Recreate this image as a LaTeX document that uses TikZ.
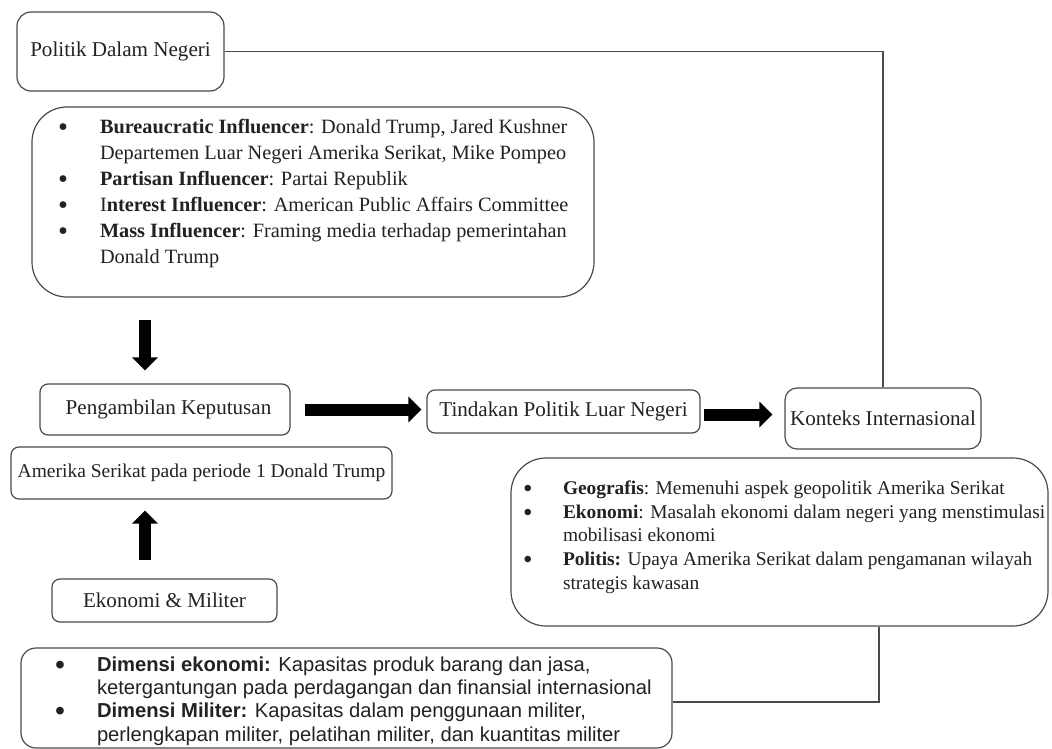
\documentclass[tikz,border=0pt]{standalone}
\usepackage{fontspec}
\setmainfont{Liberation Serif}
\newfontfamily\arialf{Liberation Sans}
\usetikzlibrary{arrows.meta,calc}
\definecolor{boxgray}{HTML}{4A4A4A}
\definecolor{txt}{HTML}{222222}
\newcommand\bigbul{\smash{\raisebox{-3pt}{\scalebox{1.4}{•}}}}
\begin{document}
\begin{tikzpicture}[x=1pt,y=-1pt,
  box/.style={draw=boxgray, line width=1.2pt, rounded corners=#1, inner sep=0pt,
    text=txt, font=\fontsize{21.1}{24}\selectfont},
  box/.default=8pt,
  bigarrow/.style={draw=black, line width=12pt, -{Triangle[length=13pt,width=25pt]}},
  link/.style={draw=boxgray, line width=1.2pt}]
\useasboundingbox (0,0) rectangle (1052,749);
\fill[white] (0,0) rectangle (1052,749);

% boxes
\node[box=14pt, minimum width=207pt, minimum height=79pt] (pdn) at (120.5,51.5) {Politik Dalam Negeri};

\node[box=35pt, minimum width=562pt, minimum height=190pt] (infl) at (313,202) {%
  \begin{minipage}[c][190pt][t]{562pt}\fontsize{20.3}{26}\selectfont
  \vspace*{8pt}\noindent\hspace*{26pt}\begin{tabular}[t]{@{}p{42pt}@{}l@{}}
  \bigbul & \textbf{Bureaucratic Influencer}: Donald Trump, Jared Kushner\\
    & Departemen Luar Negeri Amerika Serikat, Mike Pompeo\\
  \bigbul & \textbf{Partisan Influencer}: Partai Republik\\
  \bigbul & I\textbf{nterest Influencer}: American Public Affairs Committee\\
  \bigbul & \textbf{Mass Influencer}: Framing media terhadap pemerintahan\\
    & Donald Trump
  \end{tabular}\end{minipage}};

\node[box, minimum width=250pt, minimum height=51pt] (pk) at (165,409.5) {\hspace*{7pt}Pengambilan Keputusan};
\node[box, minimum width=273pt, minimum height=43pt] (tpln) at (563.5,411.5) {\raisebox{3pt}{Tindakan Politik Luar Negeri}};
\node[box=12pt, minimum width=196pt, minimum height=61pt] (ki) at (883,418.5) {\raisebox{-3pt}{Konteks Internasional}};
\node[box, minimum width=381pt, minimum height=52pt, font=\fontsize{19.5}{24}\selectfont] (as) at (201.5,473) {Amerika Serikat pada periode 1 Donald Trump};
\node[box, minimum width=225pt, minimum height=43pt] (em) at (164.5,600.5) {Ekonomi \& Militer};

\node[box=35pt, minimum width=537pt, minimum height=168pt] (fac) at (779.5,542) {%
  \begin{minipage}[c][168pt][t]{537pt}\fontsize{19.4}{23.7}\selectfont
  \vspace*{20pt}\noindent\hspace*{12pt}\begin{tabular}[t]{@{}p{40pt}@{}l@{}}
  \bigbul & \textbf{Geografis}: Memenuhi aspek geopolitik Amerika Serikat\\
  \bigbul & \textbf{Ekonomi}: Masalah ekonomi dalam negeri yang menstimulasi\\
    & mobilisasi ekonomi\\
  \bigbul & \textbf{Politis:} Upaya Amerika Serikat dalam pengamanan wilayah\\
    & strategis kawasan
  \end{tabular}\end{minipage}};

\node[box=15pt, minimum width=651pt, minimum height=100pt] (dim) at (346.5,698) {%
  \begin{minipage}[c][100pt][t]{651pt}\arialf\fontsize{20.2}{23.3}\selectfont
  \vspace*{7pt}\noindent\hspace*{34pt}\begin{tabular}[t]{@{}p{42pt}@{}l@{}}
  \bigbul & \textbf{Dimensi ekonomi:} Kapasitas produk barang dan jasa,\\
    & ketergantungan pada perdagangan dan finansial internasional\\
  \bigbul & \textbf{Dimensi Militer:} Kapasitas dalam penggunaan militer,\\
    & perlengkapan militer, pelatihan militer, dan kuantitas militer
  \end{tabular}\end{minipage}};

% helper coordinates
\coordinate (ax) at (145,0);
\coordinate (c2) at (879,702);

% connectors
\draw[link] (pdn.east) -| (ki.north);
\draw[bigarrow, shorten <=22pt, shorten >=13pt] (ax |- infl.south) -- (ax |- pk.north);
\draw[bigarrow, shorten <=18pt, shorten >=11pt] (ax |- em.north) -- (ax |- as.south);
\draw[bigarrow, shorten <=14pt, shorten >=5pt] (pk.east) -- (pk.east -| tpln.west);
\draw[bigarrow, shorten <=3pt, shorten >=12pt] ([yshift=-3pt]tpln.east) -- ([yshift=-3pt]tpln.east -| ki.west);
\draw[link] (fac.south -| c2) -- (c2) -- (c2 -| dim.east);
\end{tikzpicture}
\end{document}
